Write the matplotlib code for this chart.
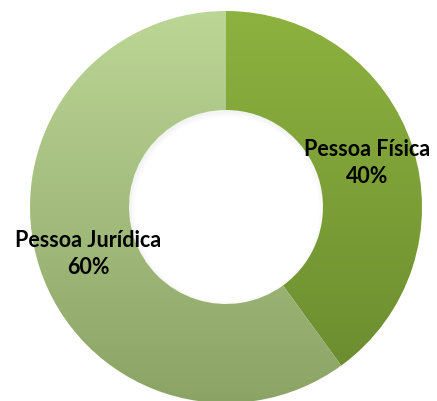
import numpy as np
import matplotlib
matplotlib.use("Agg")
import matplotlib.pyplot as plt
from matplotlib.colors import LinearSegmentedColormap
from matplotlib.patches import Wedge, Circle

categorias = ["Pessoa Física", "Pessoa Jurídica"]
valores = [40, 60]
# cor no topo e na base do anel (degradê vertical)
cores_topo = ["#8db23f", "#bcd696"]
cores_base = ["#698a2e", "#8ba465"]

W, H = 437, 401
fig = plt.figure(figsize=(W / 100, H / 100), dpi=100)
ax = fig.add_axes([0, 0, 1, 1])

cx, cy = 226, H - 207
raio = 196
furo = 97

wedges, _ = ax.pie(valores, startangle=90, counterclock=False,
                   center=(cx, cy), radius=raio,
                   wedgeprops=dict(width=raio - furo, linewidth=0, alpha=0))

# preenche cada fatia com um degradê de cima para baixo
grad = np.linspace(0, 1, 256).reshape(-1, 1)
ext = (cx - raio, cx + raio, cy - raio, cy + raio)
for w, c0, c1 in zip(wedges, cores_topo, cores_base):
    cmap = LinearSegmentedColormap.from_list("g", [c1, c0])
    im = ax.imshow(grad, cmap=cmap, extent=ext, origin="lower",
                   aspect="auto", interpolation="bilinear", zorder=1)
    im.set_clip_path(w)

# sombra suave projetada dentro do furo
buraco = Circle((cx, cy), furo, transform=ax.transData)
for i in range(6):
    s = ax.add_patch(Wedge((cx + 1, cy - 2), furo + 4, 0, 360, width=4 + i,
                           facecolor="black", alpha=0.009, linewidth=0, zorder=2))
    s.set_clip_path(buraco)

# rótulos com nome e percentual
fonte = dict(family=["Lato", "DejaVu Sans"], weight="bold", size=15.5,
             ha="center", va="center", color="black", linespacing=1.35, zorder=3)
ax.text(367, H - 163, f"{categorias[0]}\n{valores[0]}%", **fonte)
ax.text(88, H - 254, f"{categorias[1]}\n{valores[1]}%", **fonte)

ax.set_xlim(0, W)
ax.set_ylim(0, H)
ax.axis("off")
fig.savefig("out.png", dpi=100)
